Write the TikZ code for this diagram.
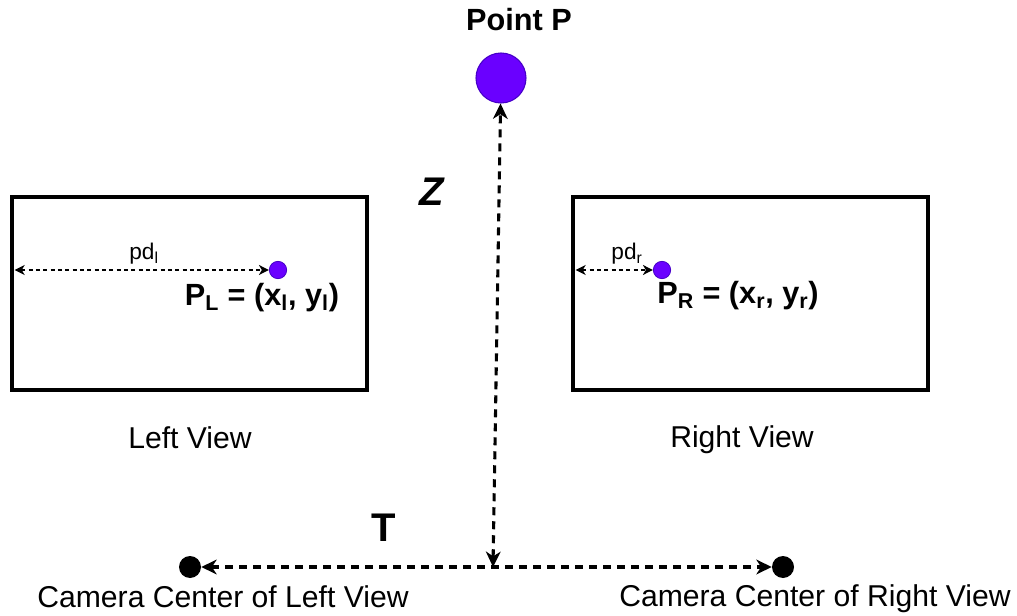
\documentclass[tikz,border=0pt]{standalone}
\usepackage{fontspec}
\setmainfont{Liberation Sans}
\usetikzlibrary{arrows.meta}
\definecolor{pfill}{RGB}{106,0,255}
\definecolor{pdraw}{RGB}{70,0,200}
\begin{document}
\begin{tikzpicture}[x=0.75pt,y=-0.75pt,
  viewbox/.style={draw=black,line width=3.2pt,minimum width=266.25pt,minimum height=144.75pt,inner sep=0pt,outer sep=0pt},
  bigdot/.style={circle,fill=pfill,draw=pdraw,line width=0.8pt,minimum size=37.5pt,inner sep=0pt},
  smalldot/.style={circle,fill=pfill,draw=pdraw,line width=0.6pt,minimum size=13pt,inner sep=0pt},
  camdot/.style={circle,fill=black,minimum size=16.5pt,inner sep=0pt},
  txt/.style={font=\fontsize{22.6}{27}\selectfont,inner sep=0pt},
  btxt/.style={font=\fontsize{23}{27}\selectfont\bfseries,inner sep=0pt},
  small/.style={font=\fontsize{17}{20}\selectfont,inner sep=0pt},
  big/.style={font=\fontsize{30}{36}\selectfont\bfseries,inner sep=0pt},
  thick dash/.style={line width=2.3pt,dash pattern=on 6pt off 4.5pt,{Stealth[length=11.5pt,width=11pt,inset=3.5pt]}-{Stealth[length=11.5pt,width=11pt,inset=3.5pt]}},
  thin dash/.style={line width=1pt,dash pattern=on 3pt off 2.5pt,{Stealth[length=7.5pt,width=7.5pt,inset=2.2pt]}-{Stealth[length=7.5pt,width=7.5pt,inset=2.2pt]}}
]
\useasboundingbox (0,0) rectangle (1017,616);

\node[btxt] (ptlabel) at (519,20) {Point P};
\node[bigdot] (P) at (501,78) {};

\node[viewbox] (LV) at (189.5,293.5) {};
\node[viewbox] (RV) at (750.5,293.5) {};

\node[smalldot] (dl) at (278,270) {};
\node[smalldot] (dr) at (662,270) {};

\coordinate (lw) at (LV.west |- dl);
\coordinate (rw) at (RV.west |- dr);
\draw[thin dash,shorten <=2pt] (lw) -- (dl);
\draw[thin dash,shorten <=2pt] (rw) -- (dr);

\node[small] (pdl) at (144,254) {pd\textsubscript{l}};
\node[small] (pdr) at (627,254) {pd\textsubscript{r}};

\node[btxt] (PL) at (262,298) {P\textsubscript{L} = (x\textsubscript{l}, y\textsubscript{l})};
\node[btxt] (PR) at (738,296) {P\textsubscript{R} = (x\textsubscript{r}, y\textsubscript{r})};

\node[big,font=\fontsize{30}{36}\selectfont\bfseries\itshape] (Z) at (432,192) {Z};
\node[big] (T) at (384,528) {T};

\node[txt] (lvl) at (190,438) {Left View};
\node[txt] (rvl) at (742,440) {Right View};

\node[camdot] (CL) at (190,567) {};
\node[camdot] (CR) at (783,567) {};
\coordinate (J) at (493,567);

\draw[thick dash] (CL) -- (CR);
\draw[thick dash] (J) -- (P);

\node[txt] (cll) at (223,597) {Camera Center of Left View};
\node[txt] (crl) at (815,599) {Camera Center of Right View};
\end{tikzpicture}
\end{document}
